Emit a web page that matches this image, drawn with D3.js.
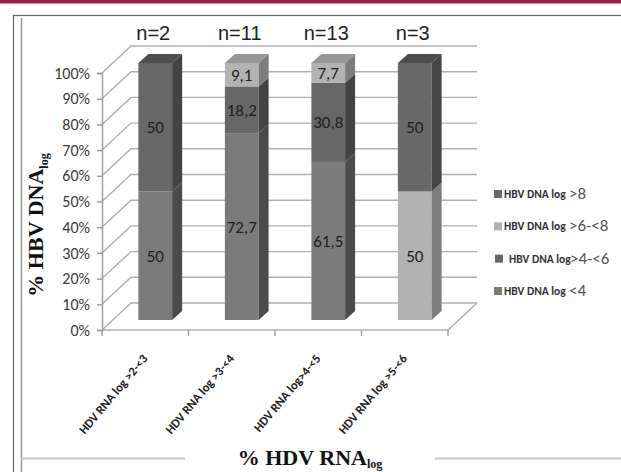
<!DOCTYPE html>
<html><head><meta charset="utf-8">
<script src="https://cdn.jsdelivr.net/npm/d3@7"></script>
<style>body{margin:0;background:#fff}svg{display:block}</style>
</head><body>
<svg id="c" width="621" height="472"></svg>
<script>
const categories = ["HDV RNA log >2-<3", "HDV RNA log >3-<4", "HDV RNA log>4-<5", "HDV RNA log >5-<6"];
const nLabels = ["n=2", "n=11", "n=13", "n=3"];
const seriesKeys = ["lt4", "b4to6", "b6to8", "gt8"];
const legendMain = ["HBV DNA log", "HBV DNA log", "HBV DNA log", "HBV DNA log"];
const legendRange = ["<4", ">4-<6", ">6-<8", ">8"];
const lt4 = [50, 72.7, 61.5, 0];
const b4to6 = [50, 18.2, 30.8, 0];
const b6to8 = [0, 9.1, 7.7, 50];
const gt8 = [0, 0, 0, 50];
const yTicks = [0, 10, 20, 30, 40, 50, 60, 70, 80, 90, 100];

const colors = {
  lt4: {front: "#7b7b7b", side: "#4b4b4b", top: "#585858"},
  b4to6: {front: "#676767", side: "#434343", top: "#4e4e4e"},
  b6to8: {front: "#b2b2b2", side: "#7c7c7c", top: "#979797"},
  gt8: {front: "#686868", side: "#444444", top: "#4d4d4d"}
};
const seriesVals = {lt4, b4to6, b6to8, gt8};

const svg = d3.select("#c");

// page decoration
svg.append("rect").attr("x", 0).attr("y", 0).attr("width", 621).attr("height", 3.5).attr("fill", "#9b1c48");
svg.append("rect").attr("x", 13.5).attr("y", 15.5).attr("width", 640).attr("height", 470).attr("fill", "none").attr("stroke", "#666").attr("stroke-width", 1.2);
svg.append("line").attr("x1", 21.5).attr("x2", 21.5).attr("y1", 18).attr("y2", 472).attr("stroke", "#999").attr("stroke-width", 1.5);
svg.append("line").attr("x1", 21).attr("x2", 621).attr("y1", 458.5).attr("y2", 458.5).attr("stroke", "#c8c8c8").attr("stroke-width", 2);

// scales
const x = d3.scaleBand().domain(categories).range([102, 448]);
const y = d3.scaleLinear().domain([0, 100]).range([330, 73]);
const wallDx = 29, wallDy = -27;
const barDx = 10, barDy = -10;   // bar position in depth
const sideDx = 10, sideDy = -9;  // bar thickness
const barW = x.bandwidth() * 0.39;

// walls / gridlines
const grid = svg.append("g").attr("stroke", "#b0b0b0").attr("stroke-width", 1.4).attr("fill", "none");
yTicks.forEach(t => {
  const y0 = y(t);
  const xEnd = x.range()[1] + wallDx;
  grid.append("path").attr("d", `M${x.range()[0]},${y0}L${x.range()[0] + wallDx},${y0 + wallDy}L${xEnd},${y0 + wallDy}`);
});
// floor
grid.append("path").attr("d", `M${x.range()[0]},${y(0)}L${x.range()[1]},${y(0)}L${x.range()[1] + wallDx},${y(0) + wallDy}`);

// y axis
const yAxisG = svg.append("g").attr("transform", `translate(${x.range()[0]},0)`)
  .call(d3.axisLeft(y).tickValues(yTicks).tickFormat(d => d + "%").tickSize(5).tickPadding(7));
yAxisG.select(".domain").attr("stroke", "#9a9a9a").attr("stroke-width", 1.4);
yAxisG.selectAll(".tick line").attr("stroke", "#9a9a9a").attr("stroke-width", 1.4);
yAxisG.selectAll(".tick text").attr("font-family", "Carlito, Lato, 'Open Sans', sans-serif").attr("font-size", 16).attr("fill", "#3a3a3a");

// x ticks on floor front
const bounds = categories.map(c => x(c)).concat([x.range()[1]]);
svg.append("g").selectAll("line").data(bounds).join("line")
  .attr("x1", d => d).attr("x2", d => d).attr("y1", y(0)).attr("y2", y(0) + 6)
  .attr("stroke", "#9a9a9a").attr("stroke-width", 1.4);

// bars
const stacked = categories.map((c, i) => {
  let acc = 0;
  return seriesKeys.map(k => {
    const v = seriesVals[k][i];
    const seg = {cat: c, key: k, v, y0: acc, y1: acc + v};
    acc += v;
    return seg;
  }).filter(s => s.v > 0);
});
const bars = svg.append("g");
stacked.forEach(segs => {
  segs.forEach((s, j) => {
    const left = x(s.cat) + (x.bandwidth() - barW) / 2 + barDx;
    const right = left + barW;
    const yb = y(s.y0) + barDy, yt = y(s.y1) + barDy;
    const col = colors[s.key];
    bars.append("rect").attr("x", left).attr("y", yt).attr("width", barW).attr("height", yb - yt).attr("fill", col.front);
    bars.append("path").attr("d", `M${right},${yb}L${right + sideDx},${yb + sideDy}L${right + sideDx},${yt + sideDy}L${right},${yt}Z`).attr("fill", col.side);
    if (j === segs.length - 1) {
      bars.append("path").attr("d", `M${left},${yt}L${left + sideDx},${yt + sideDy}L${right + sideDx},${yt + sideDy}L${right},${yt}Z`).attr("fill", col.top);
    }
    bars.append("text").attr("x", left + barW / 2).attr("y", (yt + yb) / 2 + 6)
      .attr("text-anchor", "middle").attr("font-family", "Carlito, Lato, 'Open Sans', sans-serif")
      .attr("font-size", 17).attr("fill", "#1e1e1e")
      .text(String(s.v).replace(".", ","));
  });
});

// n labels (centred over each bar)
svg.append("g").selectAll("text").data(nLabels).join("text")
  .attr("x", (d, i) => x(categories[i]) + x.bandwidth() / 2 + barDx - 2).attr("y", 40).attr("text-anchor", "middle")
  .attr("font-family", "'Liberation Sans Narrow', 'Liberation Sans', Arial, sans-serif").attr("font-size", 20).attr("fill", "#222")
  .text(d => d);

// category labels
svg.append("g").selectAll("text").data(categories).join("text")
  .attr("transform", d => `translate(${x(d) + x.bandwidth() / 2 + 3},${359}) rotate(-50)`)
  .attr("text-anchor", "end").attr("font-family", "Carlito, Lato, 'Liberation Sans', sans-serif")
  .attr("font-weight", "bold").attr("font-size", 12.5).attr("fill", "#222")
  .text(d => d);

// legend
const legendOrder = [3, 2, 1, 0];
const ly = d3.scalePoint().domain(legendOrder).range([195, 292]);
const lg = svg.append("g").selectAll("g").data(legendOrder).join("g")
  .attr("transform", d => `translate(494,${ly(d)})`);
lg.append("rect").attr("x", d => d === 1 ? 1 : 0).attr("y", -5).attr("width", 8).attr("height", 8)
  .attr("fill", d => colors[seriesKeys[d]].front);
lg.append("text").attr("x", d => d === 1 ? 15 : 10).attr("y", 3)
  .attr("font-family", "'Liberation Sans Narrow', Carlito, Lato, sans-serif").attr("font-weight", "bold")
  .attr("font-size", 11.5).attr("fill", "#333").text(d => legendMain[d]);
lg.append("text").attr("x", d => d === 1 ? 76 : 75).attr("y", 4)
  .attr("font-family", "Carlito, Lato, 'Open Sans', sans-serif")
  .attr("font-size", 17).attr("fill", "#555").text(d => legendRange[d]);

// axis titles
const yt = svg.append("g").attr("transform", "translate(43,225) rotate(-90)");
yt.append("rect").attr("x", -95).attr("y", -20).attr("width", 190).attr("height", 30).attr("fill", "#fff");
const ytt = yt.append("text").attr("text-anchor", "middle").attr("font-family", "'Liberation Serif', 'Times New Roman', serif").attr("font-size", 22).attr("font-weight", "bold").attr("fill", "#111");
ytt.append("tspan").text("% HBV DNA");
ytt.append("tspan").attr("font-size", 12).attr("dy", 5).text("log");

const xt = svg.append("g").attr("transform", "translate(310,465)");
xt.append("rect").attr("x", -125).attr("y", -18).attr("width", 250).attr("height", 25).attr("fill", "#fff");
const xtt = xt.append("text").attr("text-anchor", "middle").attr("font-family", "'Liberation Serif', 'Times New Roman', serif").attr("font-size", 22).attr("font-weight", "bold").attr("fill", "#111");
xtt.append("tspan").text("% HDV RNA");
xtt.append("tspan").attr("font-size", 12).attr("dy", 3).text("log");
</script>
</body></html>
